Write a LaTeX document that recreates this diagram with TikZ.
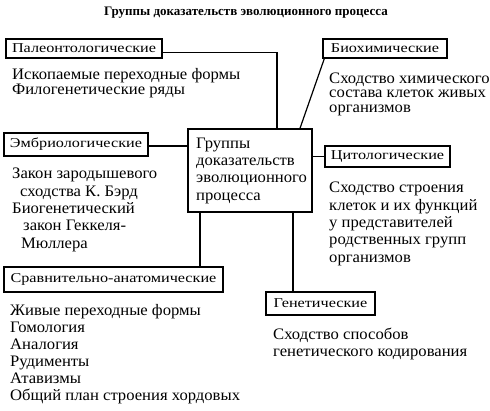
\documentclass[tikz,border=0pt]{standalone}
\usepackage{fontspec}
\setmainfont{Liberation Serif}
\newfontfamily\bodyf{Liberation Serif}[FakeStretch=1.04]
\newfontfamily\labf{Liberation Serif}[FakeStretch=1.2]
\begin{document}
\begin{tikzpicture}[x=1pt,y=-1pt,
  box/.style={draw,line width=1.4pt,inner sep=0pt,font=\labf\fontsize{13.5}{16}\selectfont},
  body/.style={anchor=base west,align=left,inner sep=0pt},
  conn/.style={line width=1.2pt}]
\useasboundingbox (0,0) rectangle (490,410);
\node[font=\bfseries\fontsize{13}{14}\selectfont] (title) at (246,13) {Группы доказательств эволюционного процесса};

\node[box,minimum width=156pt,minimum height=19pt] (pal) at (84,48.5) {Палеонтологические};
\node[box,minimum width=124pt,minimum height=19pt] (bio) at (385,48.5) {Биохимические};
\node[box,minimum width=144pt,minimum height=23pt] (emb) at (76,144.5) {Эмбриологические};
\node[box,minimum width=124pt,minimum height=83pt] (cent) at (250,170.5) {};
\node[box,minimum width=125pt,minimum height=21pt] (cyto) at (387.5,156.5) {Цитологические};
\node[box,minimum width=219pt,minimum height=25pt] (comp) at (113.5,279.5) {Сравнительно-анатомические};
\node[box,minimum width=109pt,minimum height=23pt] (gen) at (320.5,303.5) {Генетические};

\node[body,font=\bodyf\fontsize{16}{17.3}\selectfont] (centt) at (196,200) {Группы\\доказательств\\эволюционного\\процесса};

\node[body,font=\bodyf\fontsize{16}{13.3}\selectfont] (palt) at (12,94) {Ископаемые переходные формы\\Филогенетические ряды};
\node[body,font=\bodyf\fontsize{16}{14.5}\selectfont] (biot) at (329,112) {Сходство химического\\состава клеток живых\\организмов};
\node[body,font=\bodyf\fontsize{16}{17.3}\selectfont] (embt) at (12,248) {Закон зародышевого\\\hspace*{8pt}сходства К. Бэрд\\Биогенетический\\\hspace*{11pt}закон Геккеля-\\\hspace*{9pt}Мюллера};
\node[body,font=\bodyf\fontsize{16}{17.3}\selectfont] (cytot) at (329,262) {Сходство строения\\клеток и их функций\\у представителей\\родственных групп\\организмов};
\node[body,font=\bodyf\fontsize{16}{17.1}\selectfont] (compt) at (10,400.5) {Живые переходные формы\\Гомология\\Аналогия\\Рудименты\\Атавизмы\\Общий план строения хордовых};
\node[body,font=\bodyf\fontsize{16}{16.7}\selectfont] (gent) at (273,356.5) {Сходство способов\\генетического кодирования};

\draw[conn] ([yshift=-4pt]pal.east) -| ([xshift=27pt]cent.north);
\draw[conn] ([xshift=2pt]bio.south west) -- ([xshift=50pt]cent.north);
\draw[conn] ([yshift=-1.5pt]emb.east) -- ([yshift=-1.5pt]emb.east -| cent.west);
\draw[conn] (cyto.west -| cent.east) -- (cyto.west);
\draw[conn] ([xshift=-50pt]cent.south) -- ([xshift=-50pt]cent.south |- comp.north);
\draw[conn] ([xshift=43pt]cent.south) -- ([xshift=43pt]cent.south |- gen.north);
\end{tikzpicture}
\end{document}
